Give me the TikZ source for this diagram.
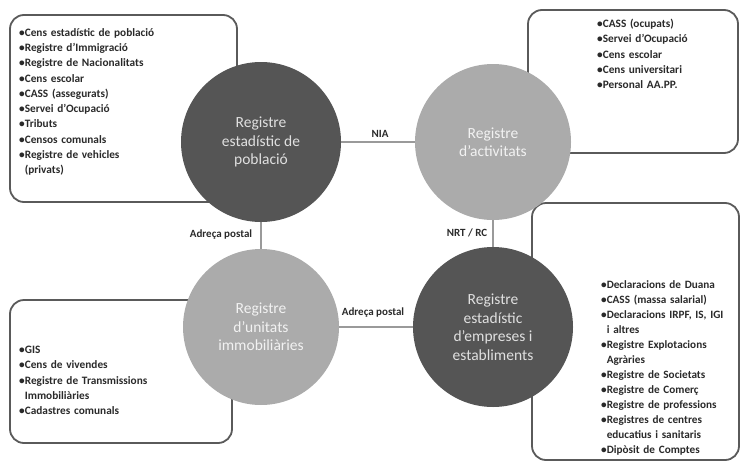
\documentclass[tikz,border=0pt]{standalone}
\usepackage{fontspec}
\setmainfont{Carlito}
\definecolor{darkc}{HTML}{555555}
\definecolor{lightc}{HTML}{ABABAB}
\definecolor{boxc}{HTML}{5A5A5A}
\definecolor{linec}{HTML}{9A9A9A}
\definecolor{txtc}{HTML}{2A2A2A}
\newcommand{\itm}[1]{\hangindent=0.5em\hangafter=1\noindent •#1\par}
\tikzset{
  x=1pt, y=-1pt,
  listbox/.style={draw=boxc, line width=1.8pt, rounded corners=14pt, fill=white, inner sep=0pt},
  listtext/.style={anchor=north west, inner sep=0pt, text width=170pt, align=left, text=txtc,
    font=\fontsize{11.3}{15.3}\selectfont\bfseries},
  regdark/.style={circle, fill=darkc, inner sep=0pt, text=white!88!black, align=center,
    font=\fontsize{15.5}{18.5}\selectfont},
  reglight/.style={circle, fill=lightc, inner sep=0pt, text=white!95!black, align=center,
    font=\fontsize{15.5}{18.5}\selectfont},
  link/.style={draw=linec, line width=1.2pt},
  linklabel/.style={inner sep=1pt, text=txtc, font=\fontsize{11}{12}\selectfont\bfseries}
}
\begin{document}
\begin{tikzpicture}
\useasboundingbox (0,0) rectangle (741,463);
% boxes
\node[listbox, minimum width=227pt, minimum height=187pt] (b1) at (123.5,108.5) {};
\node[listbox, minimum width=210pt, minimum height=143pt] (b2) at (633,81.5) {};
\node[listbox, minimum width=222pt, minimum height=143pt] (b3) at (121,371.5) {};
\node[listbox, minimum width=207pt, minimum height=257pt] (b4) at (635.5,331.5) {};
% box texts
\node[listtext] (t1) at (19,28) {%
\itm{Cens estadístic de població}
\itm{Registre d'Immigració}
\itm{Registre de Nacionalitats}
\itm{Cens escolar}
\itm{CASS (assegurats)}
\itm{Servei d'Ocupació}
\itm{Tributs}
\itm{Censos comunals}
\itm{Registre de vehicles\newline(privats)}};
\node[listtext] (t2) at (597,19) {%
\itm{CASS (ocupats)}
\itm{Servei d'Ocupació}
\itm{Cens escolar}
\itm{Cens universitari}
\itm{Personal AA.PP.}};
\node[listtext] (t3) at (19,346) {%
\itm{GIS}
\itm{Cens de vivendes}
\itm{Registre de Transmissions\newline Immobiliàries}
\itm{Cadastres comunals}};
\node[listtext, font=\fontsize{11.2}{15}\selectfont\bfseries] (t4) at (601,280) {%
\itm{Declaracions de Duana}
\itm{CASS (massa salarial)}
\itm{Declaracions IRPF, IS, IGI\newline i altres}
\itm{Registre Explotacions\newline Agràries}
\itm{Registre de Societats}
\itm{Registre de Comerç}
\itm{Registre de professions}
\itm{Registres de centres\newline educatius i sanitaris}
\itm{Dipòsit de Comptes}};
% links
\coordinate (p1) at (261,142);
\coordinate (p2) at (493,142);
\coordinate (p3) at (261,327);
\coordinate (p4) at (493,327);
\draw[link] (p1) -- (p2);
\draw[link] (p1) -- (p3);
\draw[link] (p2) -- (p4);
\draw[link] (p3) -- (p4);
% circles
\node[regdark, minimum size=160pt] (c1) at (p1) {Registre\\estadístic de\\població};
\node[reglight, minimum size=156pt] (c2) at (p2) {Registre\\d'activitats};
\node[reglight, minimum size=156pt] (c3) at (p3) {Registre\\d'unitats\\immobiliàries};
\node[regdark, minimum size=160pt] (c4) at (p4) {Registre\\estadístic\\d'empreses i\\establiments};
% labels
\node[linklabel] (l1) at (380,134) {NIA};
\node[linklabel] (l2) at (221,235) {Adreça postal};
\node[linklabel] (l3) at (467,233) {NRT / RC};
\node[linklabel] (l4) at (373,313) {Adreça postal};
\end{tikzpicture}
\end{document}
